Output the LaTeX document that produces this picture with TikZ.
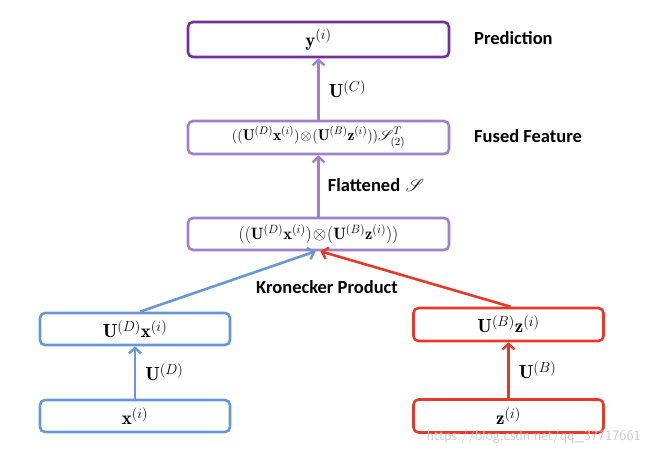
\documentclass[tikz,border=0pt]{standalone}
\usepackage{amsmath,amssymb,mathrsfs}
\usepackage{fontspec}
\newfontfamily\lblfont{Carlito}
\usetikzlibrary{arrows.meta,calc}
\definecolor{dpurple}{RGB}{112,48,160}
\definecolor{lpurple}{RGB}{160,128,200}
\definecolor{cblue}{RGB}{104,152,212}
\definecolor{cred}{RGB}{234,56,40}
\tikzset{
  x=1pt,y=-1pt,
  bx/.style={draw,line width=2.6pt,rounded corners=5pt,inner sep=0pt,font=\fontsize{19}{21}\selectfont},
  longf/.style={font=\fontsize{15.5}{18}\selectfont},
  kronf/.style={font=\fontsize{16.5}{18}\selectfont},
  lbl/.style={font=\lblfont\bfseries\fontsize{18.5}{21}\selectfont,anchor=west,inner sep=0pt},
  arr/.style={line width=2.6pt,-{Straight Barb[length=5.5pt,width=12pt,line width=2.4pt]}},
  elbl/.style={font=\fontsize{19}{21}\selectfont,anchor=west,inner sep=0pt}
}
\begin{document}
\begin{tikzpicture}
\useasboundingbox (0,0) rectangle (650,450);
\node[bx,dpurple,minimum width=261pt,minimum height=35pt] (y) at (318.5,39.5) {\color{black}$\mathbf{y}^{(i)}$};
\node[bx,longf,lpurple,minimum width=261pt,minimum height=33pt] (f) at (318.5,137.5) {\color{black}$((\mathbf{U}^{(D)}\mathbf{x}^{(i)})\!\otimes\!(\mathbf{U}^{(B)}\mathbf{z}^{(i)}))\mathscr{S}_{(2)}^{T}$};
\node[bx,kronf,lpurple,minimum width=261pt,minimum height=32pt] (k) at (318.5,234) {\color{black}$((\mathbf{U}^{(D)}\mathbf{x}^{(i)})\!\otimes\!(\mathbf{U}^{(B)}\mathbf{z}^{(i)}))$};
\node[bx,cblue,minimum width=190pt,minimum height=32pt] (ux) at (135,329) {\color{black}$\mathbf{U}^{(D)}\mathbf{x}^{(i)}$};
\node[bx,cblue,minimum width=190pt,minimum height=32pt] (x) at (135,416) {\color{black}$\mathbf{x}^{(i)}$};
\node[bx,cred,minimum width=190pt,minimum height=33pt] (uz) at (508.5,324.5) {\color{black}$\mathbf{U}^{(B)}\mathbf{z}^{(i)}$};
\node[bx,cred,minimum width=190pt,minimum height=33pt] (z) at (508.5,416) {\color{black}$\mathbf{z}^{(i)}$};

\draw[arr,lpurple] (f.north) -- (y.south) node[elbl,black,midway,xshift=9pt] (uc) {$\mathbf{U}^{(C)}$};
\draw[arr,lpurple] (k.north) -- (f.south) node[elbl,black,midway,xshift=8pt,yshift=1pt] (fl) {{\lblfont\bfseries\fontsize{18.5}{21}\selectfont Flattened} $\mathscr{S}$};
\draw[arr,cblue] ($(ux.north)+(5,0)$) -- ($(k.south)+(-3,0)$);
\draw[arr,cblue] (x.north) -- (ux.south) node[elbl,black,midway,xshift=9pt] (ud) {$\mathbf{U}^{(D)}$};
\draw[arr,cred] ($(uz.north)+(2,0)$) -- ($(k.south)+(2,0)$);
\draw[arr,cred] (z.north) -- (uz.south) node[elbl,black,midway,xshift=9pt] (ub) {$\mathbf{U}^{(B)}$};

\node[lbl] (pred) at (474,38) {Prediction};
\node[lbl] (ff) at (474,136) {Fused Feature};
\node[lbl,anchor=center] (kp) at (327,287) {Kronecker Product};
\node[font=\fontsize{14.5}{16}\selectfont\sffamily,text=gray!40,anchor=east,inner sep=0pt] (wm) at (641,437) {https://blog.csdn.net/qq\_37717661};
\end{tikzpicture}
\end{document}
